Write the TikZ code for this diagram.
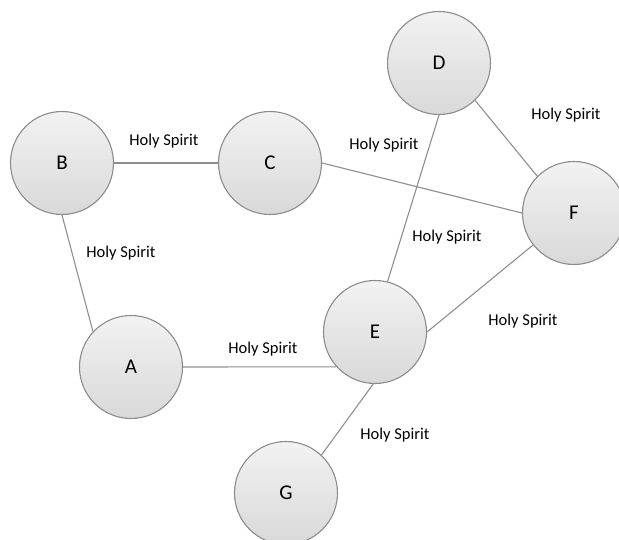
\documentclass[tikz,border=0pt]{standalone}
\usepackage{fontspec}
\setmainfont{Carlito}
\usepackage{tikz}
\usetikzlibrary{positioning}

\definecolor{rimgray}{HTML}{8C8C8C}
\definecolor{linkgray}{HTML}{8E8E8E}

\begin{document}
\begin{tikzpicture}[
    x=1pt, y=-1pt,
    person/.style={circle, draw=rimgray, line width=1.1pt, top color=gray!10, bottom color=gray!30, minimum size=103pt, inner sep=0pt, font=\fontsize{21}{21}\selectfont},
    gift/.style={font=\fontsize{16.5}{17}\selectfont, inner sep=1pt},
    link/.style={draw=linkgray, line width=1.1pt}
]
    \useasboundingbox (0,0) rectangle (619,540);

    % Members
    \node[person] (b) at (62,163) {B};
    \node[person] (c) at (270,163) {C};
    \node[person] (d) at (439,63) {D};
    \node[person] (f) at (574,213) {F};
    \node[person] (e) at (375,332) {E};
    \node[person] (a) at (131,367) {A};
    \node[person] (g) at (286,493) {G};

    % Links
    \draw[link] (b.east) -- (c.west);
    \draw[link] (b.south) -- (a.137);
    \draw[link] (a.east) -- (e.222);
    \draw[link] (e.268) -- (g.47);
    \draw[link] (e.76) -- (d.south);
    \draw[link] (e.east) -- (f.218);
    \draw[link] (c.east) -- (f.west);
    \draw[link] (d.-46) -- (f.135);

    % Labels
    \node[gift] (bc) at (164,141) {Holy Spirit};
    \node[gift] (ba) at (121,253) {Holy Spirit};
    \node[gift] (ae) at (263,349) {Holy Spirit};
    \node[gift] (eg) at (395,435) {Holy Spirit};
    \node[gift] (cf) at (384,145) {Holy Spirit};
    \node[gift] (ed) at (447,237) {Holy Spirit};
    \node[gift] (df) at (566,115) {Holy Spirit};
    \node[gift] (ef) at (523,321) {Holy Spirit};
\end{tikzpicture}
\end{document}
